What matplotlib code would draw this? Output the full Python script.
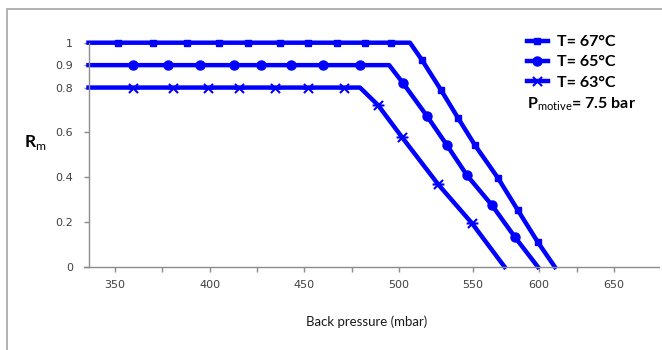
import numpy as np
import matplotlib
matplotlib.use('Agg')
import matplotlib.pyplot as plt
from matplotlib.path import Path
from matplotlib.lines import Line2D
from matplotlib.patches import Rectangle

# data (back pressure in mbar, entrainment ratio Rm)
p67 = [336, 351.6, 370, 388, 405, 420, 437, 452, 467, 482, 496, 507.4,
       515.5, 528.4, 539.9, 551.5, 569, 584, 599.2, 610.6]
r67 = [1.0, 1.0, 1.0, 1.0, 1.0, 1.0, 1.0, 1.0, 1.0, 1.0, 1.0, 1.0,
       0.923, 0.789, 0.664, 0.543, 0.396, 0.253, 0.110, 0.0]

p65 = [336, 359.5, 378, 395, 412.9, 427, 443, 460, 479.4, 494.8,
       502.7, 518.9, 532.4, 545.9, 564.4, 581.8, 599.2]
r65 = [0.9, 0.9, 0.9, 0.9, 0.9, 0.9, 0.9, 0.9, 0.9, 0.9,
       0.820, 0.673, 0.543, 0.409, 0.275, 0.133, 0.0]

p63 = [336, 359.5, 380.6, 399, 415.5, 434.5, 452, 471, 479.4,
       488.9, 502, 526.4, 549.3, 574]
r63 = [0.8, 0.8, 0.8, 0.8, 0.8, 0.8, 0.8, 0.8, 0.8,
       0.722, 0.579, 0.369, 0.195, 0.0]

# points drawn as plain line (start, knee, end) carry no marker
bare67 = [0, 11, 19]
bare65 = [0, 9, 16]
bare63 = [0, 8, 13]

labels = ['T= 67°C', 'T= 65°C', 'T= 63°C']
xticks = [350, 400, 450, 500, 550, 600, 650]
xminor = [375, 425, 475, 625]
yticks = [0, 0.2, 0.4, 0.6, 0.8, 0.9, 1]
ytick_labels = ['0', '0.2', '0.4', '0.6', '0.8', '0.9', '1']

# the original x axis is not evenly spaced: calibrate it piecewise
cal_val = np.array([300., 350., 500., 550., 600., 650., 700.])
cal_pix = np.array([20.4, 115., 399., 473., 539., 614., 689.])

def fwd(x):
    return np.interp(x, cal_val, cal_pix)

def inv(p):
    return np.interp(p, cal_pix, cal_val)

def marks(n, skip):
    return [i for i in range(n) if i not in skip]

# star-like marker: x with a horizontal bar
star = Path([(-1, -1), (1, 1), (-1, 1), (1, -1), (-1.3, 0), (1.3, 0)],
            [Path.MOVETO, Path.LINETO, Path.MOVETO, Path.LINETO, Path.MOVETO, Path.LINETO])

plt.rcParams['mathtext.fontset'] = 'custom'
plt.rcParams['mathtext.rm'] = 'Lato'
plt.rcParams['mathtext.bf'] = 'Lato:bold'

fig = plt.figure(figsize=(6.62, 3.5), dpi=100)
ax = fig.add_axes([84/662, 1-267/350, (659-84)/662, (267-42.7)/350])
ax.set_xscale('function', functions=(fwd, inv))

blue = '#0000ff'
lw = 3.2
ax.plot(p67, r67, color=blue, lw=lw, marker='s', ms=5,
        markevery=marks(len(p67), bare67), clip_on=False)
ax.plot(p65, r65, color=blue, lw=lw, marker='o', ms=6.5,
        markevery=marks(len(p65), bare65), clip_on=False)
ax.plot(p63, r63, color=blue, lw=lw, marker=star, ms=8.5, mew=1.5,
        markevery=marks(len(p63), bare63), clip_on=False)

ax.set_xlim(inv(84), inv(659))
ax.set_ylim(0, 1)
ax.set_xticks(xticks)
ax.set_xticks(xminor, minor=True)
ax.set_yticks(yticks)
ax.set_yticklabels(ytick_labels)
ax.spines['top'].set_visible(False)
ax.spines['right'].set_visible(False)
ax.spines['left'].set_position(('data', inv(89)))
for s in ['left', 'bottom']:
    ax.spines[s].set_color('#8c8c8c')
    ax.spines[s].set_linewidth(1.0)
ax.tick_params(which='both', direction='out', length=3.5, width=1.0, color='#8c8c8c',
               labelsize=8, labelcolor='#404040')
ax.tick_params(axis='x', pad=6)
ax.tick_params(axis='y', pad=8)

leg_font = {'family': 'Lato', 'weight': 'bold', 'size': 11.5}
hl = [Line2D([], [], color=blue, lw=lw, marker='s', ms=5),
      Line2D([], [], color=blue, lw=lw, marker='o', ms=6.5),
      Line2D([], [], color=blue, lw=lw, marker=star, ms=8.5, mew=1.5)]
ax.legend(hl, labels, loc='upper left', bbox_to_anchor=(527/662, 1-35/350),
          bbox_transform=fig.transFigure, frameon=False, prop=leg_font,
          handlelength=1.3, handletextpad=0.55, labelspacing=0.38,
          borderpad=0, borderaxespad=0, numpoints=1)
fig.text(527/662, 1-104/350, r'$\mathbf{P}_{\mathrm{motive}}$= 7.5 bar',
         ha='left', va='center', fontfamily='Lato', fontweight='bold', fontsize=11.5)

fig.text(24/662, 1-143/350, r'$\mathbf{R}_{\mathrm{m}}$', ha='left', va='center',
         fontfamily='Lato', fontsize=12.5)
fig.text(367/662, 1-322/350, 'Back pressure (mbar)', ha='center', va='center',
         fontfamily='Lato', fontsize=9.5, color='#1a1a1a')

fig.add_artist(Rectangle((7/662, -0.1), 1.2, 1.1-9/350, transform=fig.transFigure,
                         fill=False, edgecolor='#a6a6a6', lw=1.2))

fig.savefig('out.png', dpi=100)
